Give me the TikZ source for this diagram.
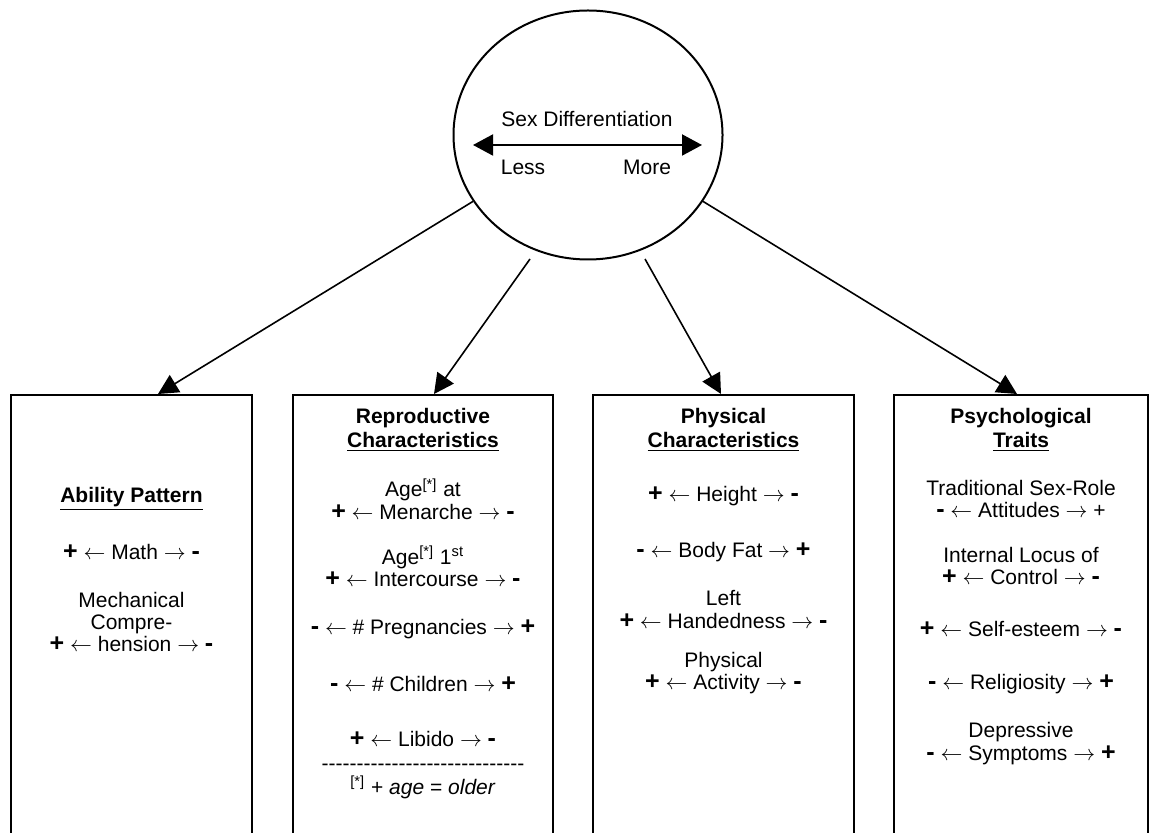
\documentclass[tikz,border=0pt]{standalone}
\usepackage{fontspec}
\setmainfont{Liberation Sans}
\usetikzlibrary{arrows.meta,calc,positioning,shapes.geometric}

\newcommand{\plussign}{{\fontsize{12.5}{11}\selectfont\bfseries +}}
\newcommand{\minussign}{{\fontsize{12.5}{11}\selectfont\bfseries -}}
\newcommand{\trait}[3]{#1 $\leftarrow$ #2 $\rightarrow$ #3}
\newcommand{\hyrow}{-{}-{}-{}-{}-{}-{}-{}-{}-{}-{}-{}-{}-{}-{}-{}-{}-{}-{}-{}-{}-{}-{}-{}-{}-{}-{}-{}-{}-{}}

\begin{document}
\begin{tikzpicture}[x=0.5pt,y=-0.5pt,
		box/.style={draw,line width=1pt,rectangle,minimum height=240pt,anchor=north,inner sep=0pt},
		item/.style={align=center,inner sep=0pt,font=\fontsize{10.5}{11.2}\selectfont},
		head/.style={align=center,inner sep=0pt,font=\fontsize{10.5}{12}\selectfont\bfseries},
		link/.style={-{Triangle[length=10pt,width=10pt]},line width=0.8pt},
		biarrow/.style={{Triangle[length=10pt,width=10.5pt]}-{Triangle[length=10pt,width=10.5pt]},line width=1pt}
		]
	\useasboundingbox (0,0) rectangle (1149,833);
	\clip (0,0) rectangle (1149,833);
	
	% sex differentiation
	\node[draw,ellipse,line width=1pt,minimum width=134.5pt,minimum height=124.5pt,inner sep=0pt] (sd) at (588,135) {};
	\node[item] (sdname) at (587,119) {Sex Differentiation};
	\node[item] (less) at (523,167) {Less};
	\node[item] (more) at (647,167) {More};
	\coordinate (lo) at (473,145);
	\coordinate (hi) at (702,145);
	\draw[biarrow] (lo) -- (hi);
	
	% boxes
	\node[box,minimum width=120.5pt] (ability) at (131.5,394) {};
	\node[box,minimum width=130pt] (repro) at (423,394) {};
	\node[box,minimum width=130.5pt] (physical) at (723.5,394) {};
	\node[box,minimum width=127pt] (psych) at (1021,394) {};
	
	% links
	\coordinate (sdl) at (530,259);
	\coordinate (sdr) at (645,259);
	\draw[link] (sd.210) -- ($(ability.north)+(26.5,0)$);
	\draw[link] (sdl) -- ($(repro.north)+(11,0)$);
	\draw[link] (sdr) -- ($(physical.north)+(-2.5,0)$);
	\draw[link] (sd.330) -- ($(psych.north)+(-4,0)$);
	
	% ability pattern
	\node[head] (abilityhead) at (131.5,499) {\underline{Ability Pattern}};
	\node[item] (math) at (131.5,552) {\trait{\plussign}{Math}{\minussign}};
	\node[item] (mech) at (131.5,622) {Mechanical\\Compre-\\\trait{\plussign}{hension}{\minussign}};
	
	% reproductive characteristics
	\node[head] (reprohead) at (423,430) {Reproductive\\\underline{Characteristics}};
	\node[item] (menarche) at (423,499) {Age\textsuperscript{[*]} at\\\trait{\plussign}{Menarche}{\minussign}};
	\node[item] (inter) at (423,566) {Age\textsuperscript{[*]} 1\textsuperscript{st}\\\trait{\plussign}{Intercourse}{\minussign}};
	\node[item] (preg) at (423,629) {\trait{\minussign}{\# Pregnancies}{\plussign}};
	\node[item] (child) at (423,684) {\trait{\minussign}{\# Children}{\plussign}};
	\node[item] (libido) at (423,739) {\trait{\plussign}{Libido}{\minussign}};
	\node[item] (rule) at (423,767) {\hyrow};
	\node[item] (note) at (423,787) {\textsuperscript{[*]} + \textit{age} = \textit{older}};
	
	% physical characteristics
	\node[head] (physhead) at (723.5,430) {Physical\\\underline{Characteristics}};
	\node[item] (height) at (723.5,496) {\trait{\plussign}{Height}{\minussign}};
	\node[item] (fat) at (723.5,552) {\trait{\minussign}{Body Fat}{\plussign}};
	\node[item] (hand) at (723.5,609.5) {Left\\\trait{\plussign}{Handedness}{\minussign}};
	\node[item] (activ) at (723.5,673) {Physical\\\trait{\plussign}{Activity}{\minussign}};
	
	% psychological traits
	\node[head] (psychhead) at (1021,430) {Psychological\\\underline{Traits}};
	\node[item] (attit) at (1021,499) {Traditional Sex-Role\\\trait{\minussign}{Attitudes}{+}};
	\node[item] (locus) at (1021,566) {Internal Locus of\\\trait{\plussign}{Control}{\minussign}};
	\node[item] (esteem) at (1021,629) {\trait{\plussign}{Self-esteem}{\minussign}};
	\node[item] (relig) at (1021,684) {\trait{\minussign}{Religiosity}{\plussign}};
	\node[item] (depr) at (1021,743.5) {Depressive\\\trait{\minussign}{Symptoms}{\plussign}};
\end{tikzpicture}
\end{document}
